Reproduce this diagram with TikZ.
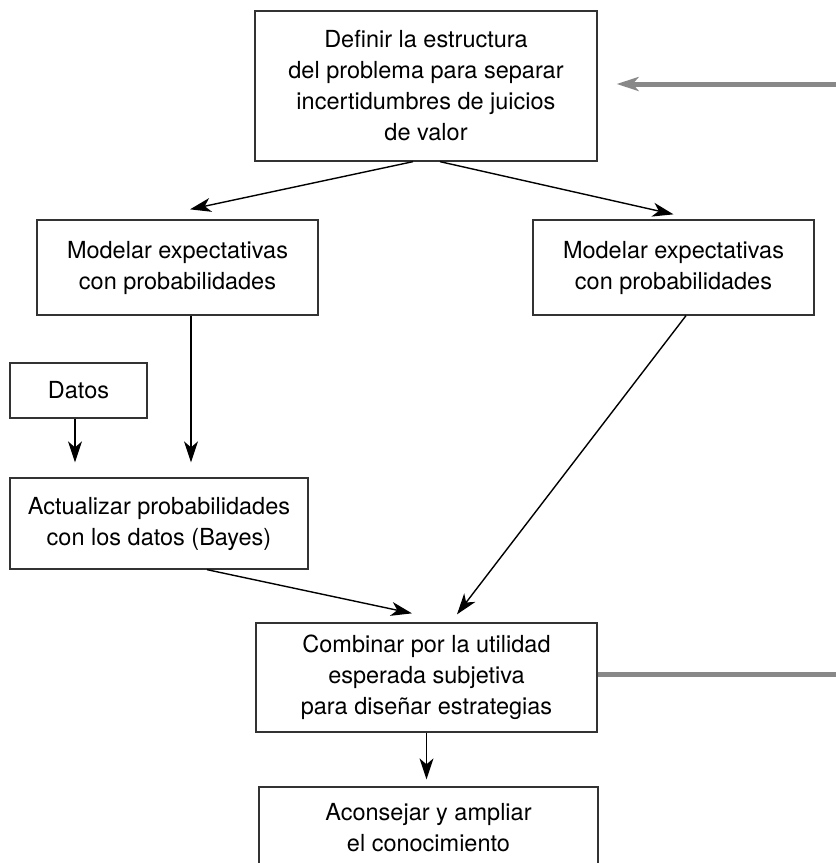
\documentclass[tikz,border=0pt]{standalone}
\usepackage{fontspec}
\setmainfont{TeX Gyre Heros}
\usetikzlibrary{arrows.meta,calc}
\definecolor{boxline}{HTML}{333333}
\definecolor{graylink}{HTML}{888888}
\begin{document}
\begin{tikzpicture}[x=1pt,y=-1pt,
  box/.style={draw=boxline,line width=1.3pt,align=center,inner sep=0pt,
    font=\fontsize{23.5}{31}\selectfont},
  arr/.style={draw=black,line width=1.4pt,-{Stealth[length=21pt,width=14pt,inset=6pt]}},
  grayarr/.style={draw=graylink,line width=5pt,-{Stealth[length=22pt,width=14pt,inset=6pt]}},
  grayline/.style={draw=graylink,line width=5pt}]
\useasboundingbox (0,0) rectangle (836,863);
\clip (0,0) rectangle (836,863);
\node[box,minimum width=342pt,minimum height=150pt] (top) at (426,86)
  {Definir la estructura\\del problema para separar\\incertidumbres de juicios\\de valor};
\node[box,minimum width=281pt,minimum height=95pt] (lm) at (177.5,267.5)
  {Modelar expectativas\\con probabilidades};
\node[box,minimum width=281pt,minimum height=95pt] (rm) at (673.5,267.5)
  {Modelar expectativas\\con probabilidades};
\node[box,minimum width=137pt,minimum height=55pt] (datos) at (78.5,390.5) {Datos};
\node[box,minimum width=298pt,minimum height=91pt] (act) at (159,523.5)
  {Actualizar probabilidades\\con los datos (Bayes)};
\node[box,minimum width=341pt,minimum height=109pt] (comb) at (426.5,677.5)
  {Combinar por la utilidad\\esperada subjetiva\\para diseñar estrategias};
\node[box,minimum width=339pt,minimum height=82pt] (acon) at (428.5,828)
  {Aconsejar y ampliar\\el conocimiento};
\coordinate (gin) at (836,84);
\coordinate (gout) at (836,674);
% connectors
\draw[arr] ([xshift=-13pt]top.south) -- ($(lm.north)+(12.5,-10)$);
\draw[arr] ([xshift=14pt]top.south) -- ($(rm.north)+(0,-5)$);
\draw[arr] ([xshift=13.5pt]lm.south) -- ($(act.north)+(32,-15)$);
\draw[arr] ([xshift=-3.5pt]datos.south) -- ($(act.north)+(-84,-15)$);
\draw[arr] ([xshift=48pt]act.south) -- ($(comb.north)+(-14.5,-9)$);
\draw[arr] ([xshift=12.5pt]rm.south) -- ($(comb.north)+(30.5,-8)$);
\draw[arr] (comb.south) -- ($(acon.north)+(-2,-7)$);
\draw[grayarr] (gin) -- ([xshift=19pt,yshift=2pt]top.east);
\draw[grayline] ([yshift=3.5pt]comb.east) -- (gout);
\end{tikzpicture}
\end{document}
